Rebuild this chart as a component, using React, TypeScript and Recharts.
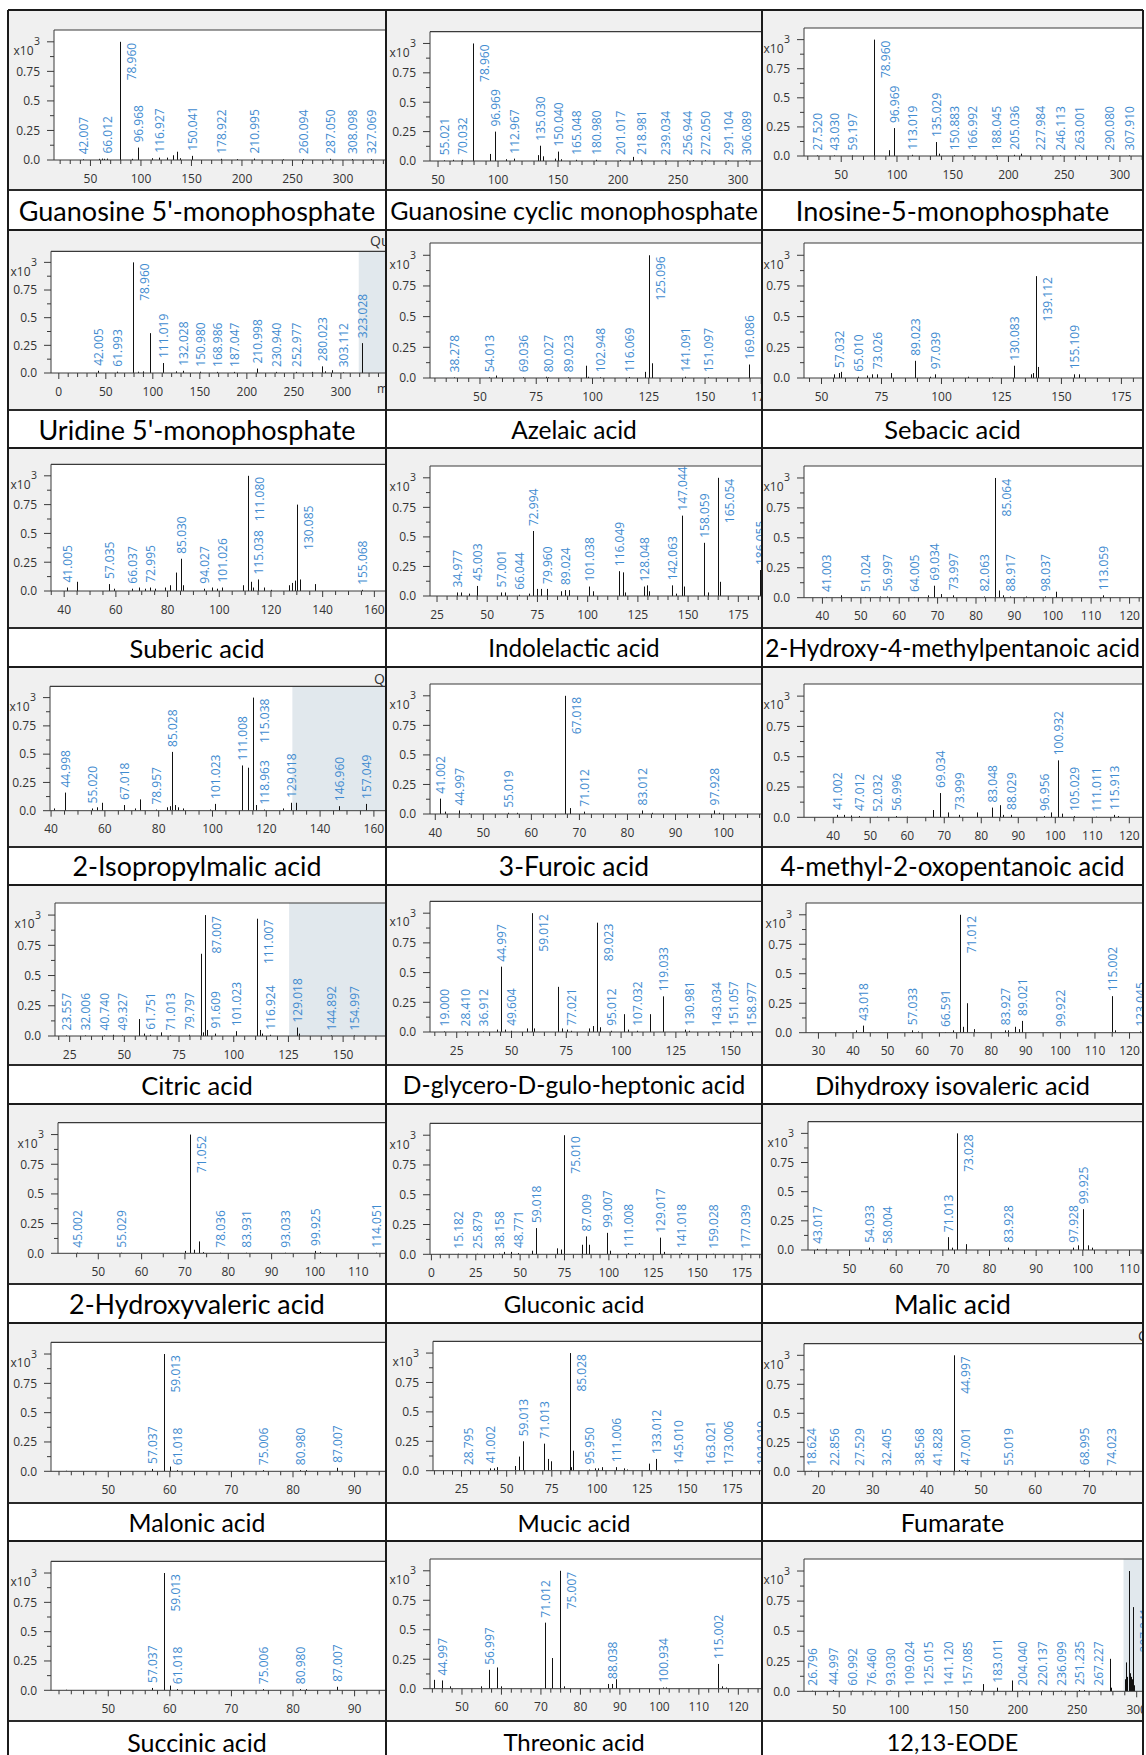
import React from "react";
import {
    BarChart, Bar, XAxis, YAxis, CartesianGrid,
    ReferenceLine, ReferenceArea
} from "recharts";

type Pk = [number, number];

// peaks: [m/z, abundance x10^3]; "Lab" peaks carry an m/z label
const gmpLab: Pk[] = [[42.007, 0.006], [66.012, 0.012], [78.960, 1.0], [96.968, 0.105], [116.927, 0.02], [150.041, 0.035], [178.922, 0.01], [210.995, 0.012], [260.094, 0.008], [287.050, 0.01], [308.098, 0.008], [327.069, 0.008]];
const gmpOther: Pk[] = [[58, 0.01], [61, 0.012], [63, 0.01], [91, 0.01], [110, 0.015], [125, 0.02], [131, 0.04], [134.9, 0.07], [138, 0.015], [195, 0.008], [240, 0.006]];

const cgmpLab: Pk[] = [[55.021, 0.006], [70.032, 0.01], [78.960, 1.0], [96.969, 0.25], [112.967, 0.02], [135.030, 0.13], [150.040, 0.08], [165.048, 0.01], [180.980, 0.01], [201.017, 0.008], [218.981, 0.01], [239.034, 0.006], [256.944, 0.006], [272.050, 0.006], [291.104, 0.006], [306.089, 0.006]];
const cgmpOther: Pk[] = [[62, 0.01], [92.9, 0.06], [106, 0.015], [133.0, 0.05], [137, 0.04], [147, 0.02], [152, 0.015], [212, 0.035], [262, 0.008]];

const impLab: Pk[] = [[27.520, 0.005], [43.030, 0.005], [59.197, 0.005], [78.960, 1.0], [96.969, 0.24], [113.019, 0.01], [135.029, 0.12], [150.883, 0.006], [166.992, 0.006], [188.045, 0.006], [205.036, 0.01], [227.984, 0.006], [246.113, 0.005], [263.001, 0.005], [290.080, 0.005], [307.910, 0.005]];
const impOther: Pk[] = [[92.9, 0.05], [137, 0.02], [211, 0.02]];

const umpLab: Pk[] = [[42.005, 0.02], [61.993, 0.012], [78.960, 1.0], [111.019, 0.09], [132.028, 0.02], [150.980, 0.012], [168.986, 0.01], [187.047, 0.01], [210.998, 0.04], [230.940, 0.01], [252.977, 0.01], [280.023, 0.06], [303.112, 0.006], [323.028, 0.27]];
const umpOther: Pk[] = [[96.969, 0.36], [90, 0.015], [85, 0.012], [125, 0.015], [270, 0.01], [284, 0.015], [291, 0.025]];

const azelaicLab: Pk[] = [[38.278, 0.005], [54.013, 0.006], [69.036, 0.006], [80.027, 0.006], [89.023, 0.006], [102.948, 0.006], [116.069, 0.008], [125.096, 1.0], [141.091, 0.01], [151.097, 0.006], [169.086, 0.11]];
const azelaicOther: Pk[] = [[57.0, 0.02], [79, 0.01], [97.0, 0.1], [97.9, 0.01], [123.1, 0.05], [126.1, 0.12]];

const sebacicLab: Pk[] = [[57.032, 0.04], [65.010, 0.01], [73.026, 0.03], [89.023, 0.14], [97.039, 0.03], [130.083, 0.1], [139.112, 0.83], [155.109, 0.03]];
const sebacicOther: Pk[] = [[55, 0.03], [58, 0.05], [69, 0.02], [71, 0.03], [79, 0.04], [95, 0.01], [111, 0.01], [121, 0.005], [137, 0.03], [138, 0.04], [140.1, 0.09], [157, 0.03]];

const subericLab: Pk[] = [[41.005, 0.03], [57.035, 0.06], [66.037, 0.02], [72.995, 0.03], [85.030, 0.28], [94.027, 0.02], [101.026, 0.03], [111.080, 1.0], [115.038, 0.1], [130.085, 0.75], [155.068, 0.01]];
const subericOther: Pk[] = [[44.9, 0.08], [59, 0.02], [69, 0.03], [71, 0.02], [75, 0.02], [79, 0.03], [81, 0.05], [83.04, 0.16], [86, 0.05], [97, 0.03], [99, 0.02], [109, 0.05], [112, 0.08], [113, 0.03], [117, 0.03], [120, 0.01], [127, 0.05], [128, 0.07], [129.1, 0.09], [131.1, 0.1], [137.1, 0.06]];

const indoleLab: Pk[] = [[34.977, 0.03], [45.003, 0.085], [57.001, 0.03], [66.044, 0.01], [72.994, 0.55], [79.960, 0.06], [89.024, 0.05], [101.038, 0.08], [116.049, 0.21], [128.048, 0.08], [142.063, 0.09], [147.044, 0.68], [158.059, 0.45], [165.054, 1.0], [186.055, 0.22]];
const indoleOther: Pk[] = [[37, 0.03], [41, 0.02], [59, 0.03], [71, 0.02], [75, 0.06], [77, 0.06], [87, 0.04], [91, 0.05], [103, 0.04], [117.9, 0.2], [119, 0.03], [130, 0.09], [131, 0.04], [144, 0.02], [148, 0.08], [160, 0.03], [166, 0.12]];

const hmpLab: Pk[] = [[41.003, 0.006], [51.024, 0.006], [56.997, 0.01], [64.005, 0.006], [69.034, 0.1], [73.997, 0.02], [82.063, 0.01], [85.064, 1.0], [88.917, 0.01], [98.037, 0.01], [113.059, 0.02]];
const hmpOther: Pk[] = [[45, 0.02], [55, 0.01], [67.6, 0.02], [71, 0.03], [86.1, 0.06], [87, 0.02], [93, 0.01], [101, 0.05]];

const ipmLab: Pk[] = [[44.998, 0.16], [55.020, 0.02], [67.018, 0.05], [78.957, 0.01], [85.028, 0.52], [101.023, 0.06], [111.008, 0.4], [115.038, 1.0], [118.963, 0.01], [129.018, 0.07], [146.960, 0.04], [157.049, 0.06]];
const ipmOther: Pk[] = [[41, 0.02], [57, 0.03], [59, 0.07], [71, 0.02], [73, 0.1], [83, 0.03], [84, 0.04], [86.03, 0.05], [87, 0.03], [89, 0.02], [99, 0.01], [113.02, 0.38], [116.04, 0.05], [126, 0.02], [131, 0.07]];

const furoicLab: Pk[] = [[41.002, 0.13], [44.997, 0.03], [55.019, 0.01], [67.018, 1.0], [71.012, 0.02], [83.012, 0.03], [97.928, 0.03]];
const furoicOther: Pk[] = [[42, 0.02], [47, 0.005], [57, 0.01], [68, 0.05], [85, 0.01], [99, 0.01]];

const mopLab: Pk[] = [[41.002, 0.02], [47.012, 0.01], [52.032, 0.005], [56.996, 0.01], [69.034, 0.2], [73.999, 0.02], [83.048, 0.08], [88.029, 0.02], [96.956, 0.01], [100.932, 0.47], [105.029, 0.01], [111.011, 0.005], [115.913, 0.02]];
const mopOther: Pk[] = [[43, 0.02], [45, 0.015], [60, 0.005], [67.02, 0.06], [71, 0.04], [79, 0.04], [85.03, 0.1], [86, 0.02], [99, 0.04], [102, 0.03], [117, 0.01]];

const citricLab: Pk[] = [[23.557, 0.005], [32.006, 0.005], [40.740, 0.005], [49.327, 0.005], [61.751, 0.01], [71.013, 0.005], [79.797, 0.01], [87.007, 1.0], [91.609, 0.02], [101.023, 0.04], [111.007, 0.97], [116.924, 0.01], [129.018, 0.07], [144.892, 0.005], [154.997, 0.005], [172.993, 0.005]];
const citricOther: Pk[] = [[45, 0.01], [57.03, 0.14], [59, 0.02], [67, 0.03], [85.03, 0.68], [86, 0.03], [88, 0.05], [112, 0.05], [113, 0.02], [129.9, 0.02]];

const heptLab: Pk[] = [[19.000, 0.005], [28.410, 0.005], [36.912, 0.005], [44.997, 0.55], [49.604, 0.01], [59.012, 1.0], [77.021, 0.01], [89.023, 0.92], [95.012, 0.01], [107.032, 0.01], [119.033, 0.3], [130.981, 0.01], [143.034, 0.005], [151.057, 0.01], [158.977, 0.005]];
const heptOther: Pk[] = [[43, 0.02], [47, 0.02], [57, 0.03], [60, 0.03], [71.01, 0.38], [73, 0.03], [75, 0.02], [85, 0.03], [87, 0.05], [90, 0.04], [101.02, 0.15], [103, 0.02], [113.02, 0.15], [129, 0.02]];

const dhivLab: Pk[] = [[43.018, 0.06], [57.033, 0.02], [66.591, 0.005], [71.012, 1.0], [83.927, 0.02], [89.021, 0.1], [99.922, 0.005], [115.002, 0.31], [123.045, 0.01]];
const dhivOther: Pk[] = [[41, 0.02], [59, 0.01], [69, 0.02], [72, 0.05], [73.03, 0.25], [75, 0.03], [85, 0.02], [87, 0.05], [88, 0.03], [116, 0.02]];

const hvaLab: Pk[] = [[45.002, 0.005], [55.029, 0.005], [71.052, 1.0], [78.036, 0.005], [83.931, 0.005], [93.033, 0.005], [99.925, 0.02], [114.051, 0.005]];
const hvaOther: Pk[] = [[70, 0.02], [72, 0.03], [73.03, 0.1], [74, 0.01], [101, 0.01]];

const gluconicLab: Pk[] = [[15.182, 0.005], [25.879, 0.005], [38.158, 0.005], [48.771, 0.01], [59.018, 0.22], [75.010, 1.0], [87.009, 0.15], [99.007, 0.18], [111.008, 0.01], [129.017, 0.14], [141.018, 0.01], [159.028, 0.005], [177.039, 0.005]];
const gluconicOther: Pk[] = [[41, 0.02], [45, 0.02], [57, 0.03], [71, 0.05], [73, 0.04], [85, 0.08], [89.02, 0.08], [101, 0.03], [117, 0.01], [131, 0.02]];

const malicLab: Pk[] = [[43.017, 0.01], [54.033, 0.02], [58.004, 0.01], [71.013, 0.11], [73.028, 1.0], [83.928, 0.02], [97.928, 0.02], [99.925, 0.35]];
const malicOther: Pk[] = [[45, 0.01], [72, 0.02], [75, 0.05], [98.9, 0.04], [101, 0.04], [102, 0.02], [115, 0.01]];

const malonicLab: Pk[] = [[57.037, 0.02], [59.013, 1.0], [61.018, 0.01], [75.006, 0.01], [80.980, 0.01], [87.007, 0.03]];
const malonicOther: Pk[] = [[43, 0.005], [60, 0.04], [82, 0.01]];

const mucicLab: Pk[] = [[28.795, 0.005], [41.002, 0.02], [59.013, 0.25], [71.013, 0.23], [85.028, 1.0], [95.950, 0.01], [111.006, 0.03], [133.012, 0.1], [145.010, 0.01], [163.021, 0.005], [173.006, 0.005], [191.019, 0.005]];
const mucicOther: Pk[] = [[43, 0.02], [45, 0.03], [55, 0.04], [57.03, 0.12], [73.03, 0.1], [75, 0.08], [86, 0.03], [87.01, 0.17], [99, 0.02], [101, 0.02], [103, 0.03], [115, 0.02], [117, 0.01], [129.02, 0.06]];

const fumarateLab: Pk[] = [[18.624, 0.005], [22.856, 0.005], [27.529, 0.005], [32.405, 0.005], [38.568, 0.005], [41.828, 0.005], [44.997, 1.0], [47.001, 0.01], [55.019, 0.005], [68.995, 0.01], [74.023, 0.005]];
const fumarateOther: Pk[] = [[46, 0.01]];

const succinicLab: Pk[] = [[57.037, 0.02], [59.013, 1.0], [61.018, 0.01], [75.006, 0.01], [80.980, 0.01], [87.007, 0.03]];
const succinicOther: Pk[] = [[43, 0.005], [60, 0.04], [82, 0.01]];

const threonicLab: Pk[] = [[44.997, 0.07], [56.997, 0.16], [71.012, 0.56], [75.007, 1.0], [88.038, 0.04], [100.934, 0.01], [115.002, 0.21]];
const threonicOther: Pk[] = [[43, 0.075], [47, 0.02], [55, 0.02], [59.01, 0.18], [60, 0.02], [73.03, 0.26], [76, 0.02], [87, 0.04], [89.02, 0.08], [101.9, 0.01], [116, 0.02], [117, 0.01]];

const eodeLab: Pk[] = [[26.796, 0.005], [44.997, 0.01], [60.992, 0.005], [76.460, 0.005], [93.030, 0.005], [109.024, 0.005], [125.015, 0.005], [141.120, 0.005], [157.085, 0.005], [183.011, 0.03], [204.040, 0.005], [220.137, 0.005], [236.099, 0.005], [251.235, 0.01], [267.227, 0.005], [297.241, 0.7]];
const eodeOther: Pk[] = [[161, 0.01], [171, 0.06], [195, 0.09], [256, 0.01], [277.2, 0.27], [278.2, 0.03], [290.2, 0.1], [291.2, 0.24], [292.2, 0.12], [293.212, 1.0], [294.2, 0.15], [295.2, 0.12], [296, 0.1], [298, 0.05]];

const NAMES = [
    "Guanosine 5'-monophosphate", "Guanosine cyclic monophosphate", "Inosine-5-monophosphate",
    "Uridine 5'-monophosphate", "Azelaic acid", "Sebacic acid",
    "Suberic acid", "Indolelactic acid", "2-Hydroxy-4-methylpentanoic acid",
    "2-Isopropylmalic acid", "3-Furoic acid", "4-methyl-2-oxopentanoic acid",
    "Citric acid", "D-glycero-D-gulo-heptonic acid", "Dihydroxy isovaleric acid",
    "2-Hydroxyvaleric acid", "Gluconic acid", "Malic acid",
    "Malonic acid", "Mucic acid", "Fumarate",
    "Succinic acid", "Threonic acid", "12,13-EODE",
];

const LABELED = [gmpLab, cgmpLab, impLab, umpLab, azelaicLab, sebacicLab, subericLab, indoleLab, hmpLab, ipmLab, furoicLab, mopLab, citricLab, heptLab, dhivLab, hvaLab, gluconicLab, malicLab, malonicLab, mucicLab, fumarateLab, succinicLab, threonicLab, eodeLab];
const OTHER = [gmpOther, cgmpOther, impOther, umpOther, azelaicOther, sebacicOther, subericOther, indoleOther, hmpOther, ipmOther, furoicOther, mopOther, citricOther, heptOther, dhivOther, hvaOther, gluconicOther, malicOther, malonicOther, mucicOther, fumarateOther, succinicOther, threonicOther, eodeOther];

// visible m/z window of each panel
const X_DOMAINS: [number, number][] = [
    [13.9, 342.6], [43.3, 320], [16.6, 320.7],
    [-8.3, 348], [27.8, 175.3], [42.7, 184],
    [34.9, 164.5], [21.5, 186.8], [35.2, 123.5],
    [39.6, 164.5], [38.9, 108], [32.1, 123.7],
    [18.3, 169.6], [12.8, 164.3], [26.4, 123.9],
    [40.7, 116.4], [-0.8, 186.3], [41.1, 112.9],
    [40.7, 95.1], [9.2, 191.4], [17.3, 79.9],
    [40.7, 95.1], [41.9, 126], [20.4, 305.3],
];
const X_MAJOR = [50, 50, 50, 50, 25, 25, 20, 25, 10, 20, 10, 10, 25, 25, 10, 10, 25, 10, 10, 25, 10, 10, 10, 50];
const X_MINOR = [10, 10, 10, 10, 5, 5, 5, 5, 2.5, 5, 2.5, 5, 5, 5, 5, 5, 5, 2.5, 2, 5, 2.5, 2, 2.5, 10];
const SHADE_FROM: (number | null)[] = [null, null, null, 319, null, null, null, null, null, 129.7, null, null, 125.3, null, null, null, null, null, null, null, null, null, null, 288.9];

const Y_TICKS = [0, 0.125, 0.25, 0.375, 0.5, 0.625, 0.75, 0.875, 1];
const Y_LABELS: Record<string, string> = { "0": "0.0", "0.25": "0.25", "0.5": "0.5", "0.75": "0.75" };
const Y_MAX = 1.1;
const SIDE_LEVEL = 0.7;

// page geometry
const COLS = [8, 386, 762, 1143];
const ROWS = [10, 230, 448, 667, 885, 1104, 1323, 1541];
const CHART_H = 180;
// per panel: [plot top, x-axis y, plot left] inside the cell
const LAYOUT: [number, number, number][] = [
    [20, 150, 46], [21.7, 151, 44], [18, 146, 42],
    [21.3, 143, 43], [13, 148, 44], [13, 148, 42],
    [16.3, 143, 43], [18, 148, 44], [18, 149.7, 42],
    [19.3, 143.7, 42], [17, 147, 44], [17, 150.3, 42],
    [18, 151, 47], [16.3, 147, 44], [18, 147.7, 44],
    [18.7, 149.3, 50], [19.3, 150.3, 44], [17.7, 146, 46],
    [19.3, 148.3, 43], [18.3, 147.7, 47], [20.7, 148.3, 42],
    [20.3, 149.3, 43], [18, 147.7, 44], [18, 150.3, 42],
];
// caption font size of each cell
const NAME_SIZE = [
    27, 25, 27,
    27, 24.5, 25.5,
    25.5, 24.3, 24.4,
    26.8, 26.4, 26,
    25.5, 24.6, 25.4,
    26.8, 24, 26.6,
    24.8, 24, 25,
    25, 24, 23.4,
];

const AXIS = "#3a3a3a";
const TICK_FONT = "'Open Sans', 'Noto Sans', sans-serif";
const PEAK_BLUE = "#3f8bd0";

function makeTicks(min: number, max: number, step: number) {
    const out: number[] = [];
    for (let v = Math.ceil(min / step - 1e-9) * step; v <= max + 1e-9; v += step) {
        out.push(+v.toFixed(4));
    }
    return out;
}

const Stick = (props: any) => {
    const { x, y, width, height, payload } = props;
    if (x == null || y == null || !payload) return null;
    const cx = Math.round(x + (width || 0) / 2) + 0.5;
    const bottom = y + height;
    let label = null;
    if (payload.lab) {
        const txt = payload.mz.toFixed(3);
        const side = payload.v >= SIDE_LEVEL;
        const ax = side ? cx + 11 : cx;
        const ay = side ? y + 1 : y - 5;
        label = (
            <text
                x={ax} y={ay} dy="0.36em"
                transform={`rotate(-90 ${ax} ${ay})`}
                textAnchor={side ? "end" : "start"}
                fontSize={12} fontFamily={TICK_FONT} fill={PEAK_BLUE}
            >
                {txt}
            </text>
        );
    }
    return (
        <g>
            <line x1={cx} x2={cx} y1={y} y2={bottom} stroke="#111" strokeWidth={1} />
            {label}
        </g>
    );
};

const XTick = (props: any) => {
    const { x, y, payload, major } = props;
    const v = payload.value;
    const isMajor = Math.abs(v / major - Math.round(v / major)) < 1e-6;
    return (
        <g>
            <line x1={x} x2={x} y1={y} y2={y + (isMajor ? 6 : 4)} stroke={AXIS} />
            {isMajor && (
                <text x={x} y={y + 22.5} textAnchor="middle" fontSize={12} fontFamily={TICK_FONT} fill="#333">
                    {v}
                </text>
            )}
        </g>
    );
};

const YTick = (props: any) => {
    const { x, y, payload } = props;
    const v = payload.value;
    const key = String(v);
    const isMajor = key in Y_LABELS || v === 1;
    return (
        <g>
            <line x1={x - (isMajor ? 7 : 4)} x2={x} y1={y} y2={y} stroke={AXIS} />
            {key in Y_LABELS && (
                <text x={x - 14} y={y + 4.3} textAnchor="end" fontSize={12} fontFamily={TICK_FONT} fill="#333">
                    {Y_LABELS[key]}
                </text>
            )}
            {v === 1 && (
                <g fontFamily={TICK_FONT} fill="#333">
                    <text x={x - 20.5} y={y + 13.3} textAnchor="end" fontSize={12}>x10</text>
                    <text x={x - 14} y={y + 3.5} textAnchor="end" fontSize={10.5}>3</text>
                </g>
            )}
        </g>
    );
};

const Panel = ({ i }: { i: number }) => {
    const col = i % 3;
    const w = COLS[col + 1] - COLS[col];
    const [top, y0, left] = LAYOUT[i];
    const dom = X_DOMAINS[i];
    const data = [
        ...LABELED[i].map(([mz, v]) => ({ mz, v, lab: true })),
        ...OTHER[i].map(([mz, v]) => ({ mz, v, lab: false })),
    ].sort((a, b) => a.mz - b.mz);
    const ticks = makeTicks(dom[0], dom[1], X_MINOR[i]);
    const shade = SHADE_FROM[i];

    return (
        <BarChart width={w} height={CHART_H} data={data} margin={{ top, right: 0, bottom: 0, left: 0 }}>
            <CartesianGrid horizontal={false} vertical={false} fill="#ffffff" />
            {shade != null && (
                <ReferenceArea x1={shade} x2={dom[1]} y1={0} y2={Y_MAX} fill="#a9bccc" fillOpacity={0.35} stroke="none" ifOverflow="hidden" />
            )}
            <XAxis
                dataKey="mz" type="number" domain={dom} allowDataOverflow
                ticks={ticks} interval={0} tickSize={0} tickMargin={0} tickLine={false}
                axisLine={{ stroke: AXIS }} height={CHART_H - y0}
                tick={(p: any) => <XTick {...p} major={X_MAJOR[i]} />}
            />
            <YAxis
                type="number" domain={[0, Y_MAX]} allowDataOverflow
                ticks={Y_TICKS} interval={0} tickSize={0} tickMargin={0} tickLine={false}
                axisLine={{ stroke: AXIS }} width={left}
                tick={(p: any) => <YTick {...p} />}
            />
            <ReferenceLine y={Y_MAX} stroke={AXIS} strokeWidth={1.2} ifOverflow="visible" />
            <Bar dataKey="v" barSize={1} isAnimationActive={false} shape={(p: any) => <Stick {...p} />} />
        </BarChart>
    );
};

// fragments of neighbouring screen content cut off at the cell edges
const EDGE_TEXT: { i: number; text: string; left: number; top: number; size: number }[] = [
    { i: 3, text: "Qu", left: 362, top: 4, size: 14 },
    { i: 3, text: "m/z", left: 369, top: 153, size: 12 },
    { i: 9, text: "Qu", left: 366, top: 5, size: 14 },
    { i: 20, text: "C", left: 376, top: 6, size: 14 },
];

const App = () => {
    const lines: React.ReactNode[] = [];
    ROWS.forEach((r, k) => {
        lines.push(<div key={"h" + k} style={{ position: "absolute", left: COLS[0], top: r - 0.75, width: COLS[3] - COLS[0], height: 1.5, background: "#1b1b1b" }} />);
        lines.push(<div key={"s" + k} style={{ position: "absolute", left: COLS[0], top: r + CHART_H - 1, width: COLS[3] - COLS[0], height: 2, background: "#2a2a2a" }} />);
    });
    COLS.forEach((c, k) => {
        lines.push(<div key={"v" + k} style={{ position: "absolute", left: c - 0.75, top: ROWS[0], width: 1.5, height: 1755 - ROWS[0], background: "#1b1b1b" }} />);
    });

    return (
        <div style={{ position: "absolute", left: 0, top: 0, width: 1146, height: 1755, overflow: "hidden", background: "#fff" }}>
            {NAMES.map((name, i) => {
                const col = i % 3;
                const row = Math.floor(i / 3);
                const x = COLS[col];
                const w = COLS[col + 1] - COLS[col];
                const y = ROWS[row];
                const next = row + 1 < ROWS.length ? ROWS[row + 1] : 1762;
                return (
                    <React.Fragment key={name + i}>
                        <div style={{ position: "absolute", left: x, top: y, width: w, height: CHART_H, background: "#f0f0f0", overflow: "hidden" }}>
                            <Panel i={i} />
                            {EDGE_TEXT.filter(e => e.i === i).map((e, k) => (
                                <span key={k} style={{ position: "absolute", left: e.left, top: e.top, fontSize: e.size, fontFamily: TICK_FONT, color: "#333", whiteSpace: "nowrap", lineHeight: 1 }}>
                                    {e.text}
                                </span>
                            ))}
                        </div>
                        <div style={{
                            position: "absolute", left: x, top: y + CHART_H, width: w, height: next - y - CHART_H,
                            display: "flex", alignItems: "center", justifyContent: "center",
                            fontFamily: "Lato, 'Open Sans', sans-serif", fontSize: NAME_SIZE[i], color: "#000", whiteSpace: "nowrap", overflow: "hidden",
                        }}>
                            {name}
                        </div>
                    </React.Fragment>
                );
            })}
            {lines}
        </div>
    );
};

export default App;
